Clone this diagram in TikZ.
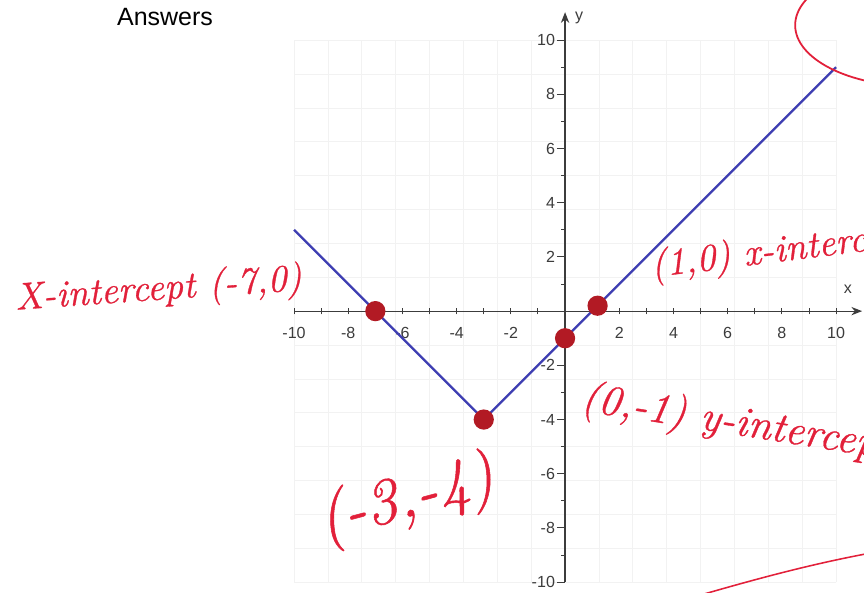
\documentclass[tikz,border=0pt]{standalone}
\usepackage{fontspec}
\newfontfamily\sansfont{Liberation Sans}
\newfontfamily\penfont[ItalicFeatures={FakeBold=0.8}]{Latin Modern Roman}
\usetikzlibrary{arrows.meta}

\definecolor{penred}{RGB}{226,32,58}
\definecolor{dotred}{RGB}{178,26,36}
\definecolor{lineblue}{RGB}{62,62,178}
\definecolor{axisgray}{RGB}{60,60,60}

\begin{document}
\begin{tikzpicture}[
    x=0.8cm, y=0.8cm,
    >={Stealth[length=9pt,width=7pt]},
    font=\sansfont,
    ticklabel/.style={text=axisgray, font=\sansfont\fontsize{13.5}{14}\selectfont, inner sep=1pt},
    pen/.style={text=penred, font=\penfont\itshape\fontsize{32}{34}\selectfont, inner sep=0pt},
    reddot/.style={circle, fill=dotred, inner sep=0pt, minimum size=17pt}
]
    % --- canvas (fixes the margins) ---
    \clip (-20.85,-10.37) rectangle (11.03,11.48);
    \fill[white] (-20.85,-10.37) rectangle (11.03,11.48);

    % --- title ---
    \node[font=\sansfont\fontsize{21}{21}\selectfont] (title) at (-14.76,10.85) {Answers};

    % --- grid ---
    \draw[gray!10, line width=0.6pt] (-10,-10) grid (10,10);

    % --- axes ---
    \draw[->, axisgray, line width=1pt] (-10,0) -- (10.96,0);
    \draw[->, axisgray, line width=1pt] (0,-10) -- (0,11.03);
    \node[ticklabel] (xlabel) at (10.44,0.8) {x};
    \node[ticklabel] (ylabel) at (0.52,10.81) {y};

    % ticks
    \foreach \i in {-10,...,10}
        \draw[axisgray, line width=0.8pt] (\i,-0.12) -- (\i,0.12);
    \foreach \i in {-10,-8,...,10}
        \draw[axisgray, line width=0.8pt] (-0.3,\i) -- (0,\i);
    \foreach \i in {-9,-7,...,9}
        \draw[axisgray, line width=0.8pt] (-0.14,\i) -- (0,\i);

    % tick labels
    \foreach \i in {-10,-8,-6,-4,-2,2,4,6,8,10} {
        \node[ticklabel] (xt\i) at (\i,-0.8) {\i};
        \node[ticklabel, anchor=east] (yt\i) at (-0.32,\i) {\i};
    }

    % --- graph y = |x+3| - 4 ---
    \coordinate (left) at (-10,3);
    \coordinate (vertex) at (-3,-4);
    \coordinate (right) at (10,9);
    \draw[lineblue, line width=2pt] (left) -- (vertex) -- (right);

    % --- marked points ---
    \node[reddot] (xintA) at (-7,0) {};
    \node[reddot] (xintB) at (1.2,0.2) {};
    \node[reddot] (yint) at (0,-1) {};
    \node[reddot] (vtx) at (-3,-4) {};

    % --- handwritten notes ---
    \node[pen, rotate=4] (xintAnote) at (-15.0,0.77) {X-intercept (-7,0)};
    \node[pen, rotate=7, anchor=base west] (xintBnote) at (3.21,1.25) {(1,0) x-intercept};
    \node[pen, font=\penfont\itshape\fontsize{36}{38}\selectfont, rotate=-9, anchor=base west]
        (yintnote) at (0.55,-3.65) {(0,-1) y-intercept};
    \node[pen, font=\penfont\itshape\fontsize{54}{56}\selectfont, rotate=15] (vtxnote) at (-5.85,-7.0) {(-3,-4)};

    % circle round the end point, stroke at the bottom
    \draw[penred, line width=1.5pt] (12.92,10.55) ellipse (4.43 and 2.25);
    \draw[penred, line width=1.3pt] (4.98,-10.48) .. controls (7,-9.9) and (9,-9.35) .. (11.25,-8.93);
\end{tikzpicture}
\end{document}
